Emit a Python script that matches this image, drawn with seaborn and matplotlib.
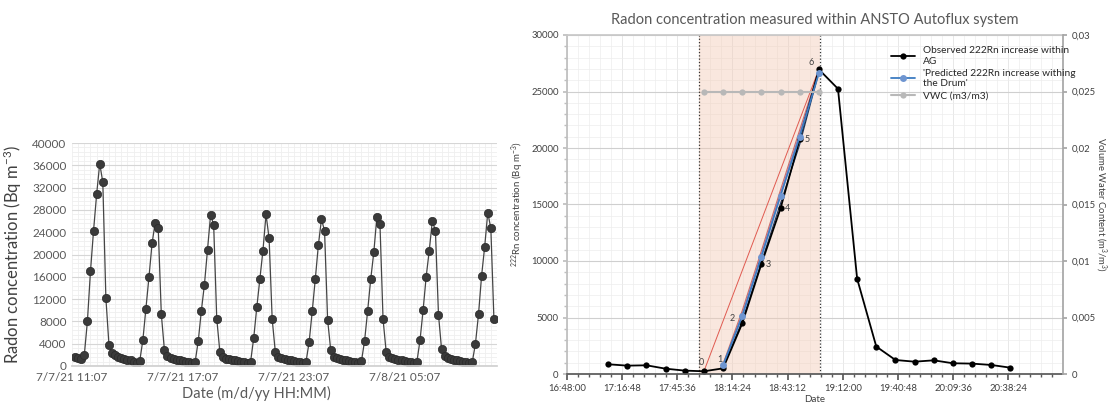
import pandas as pd
import matplotlib
matplotlib.use("Agg")
import matplotlib.pyplot as plt
import matplotlib.dates as mdates
from matplotlib.ticker import MultipleLocator, FuncFormatter
import seaborn as sns

sns.set_theme(style="white")
plt.rcParams['font.family'] = ['Lato', 'DejaVu Sans']
plt.rcParams['mathtext.default'] = 'regular'

#%% Left panel data - radon every 10 min, one list per accumulation cycle
pre_cycle = [1700, 1400, 1200, 2000, 8000, 17000, 24300, 30800]
cycle_1 = [36300, 33000, 12200, 3800, 2300, 1900, 1700, 1500, 1300, 1100, 1000, 800, 600, 900, 4600, 10200, 16000, 22000]
cycle_2 = [25700, 24700, 9300, 2900, 1800, 1400, 1200, 1100, 1000, 900, 800, 700, 500, 800, 4500, 9900, 14600, 20800]
cycle_3 = [27100, 25300, 8500, 2600, 1600, 1300, 1200, 1100, 1000, 900, 800, 700, 600, 800, 5000, 10500, 15600, 20700]
cycle_4 = [27200, 22900, 8400, 2600, 1700, 1400, 1200, 1100, 1000, 900, 800, 700, 600, 800, 4300, 9800, 15600, 21700]
cycle_5 = [26300, 24300, 8300, 2900, 1700, 1400, 1300, 1100, 1000, 900, 800, 700, 600, 900, 4500, 9900, 15600, 20400]
cycle_6 = [26800, 25400, 8400, 2600, 1600, 1400, 1200, 1100, 1000, 900, 800, 700, 600, 800, 4600, 10000, 16000, 20700]
cycle_7 = [26000, 24300, 9200, 3000, 1800, 1400, 1200, 1100, 1000, 900, 800, 700, 500, 800, 4000, 9300, 16200, 21400]
cycle_8 = [27500, 24700, 8400]
radon = pre_cycle + cycle_1 + cycle_2 + cycle_3 + cycle_4 + cycle_5 + cycle_6 + cycle_7 + cycle_8
left_times = pd.date_range("2021-07-07 11:17", periods=len(radon), freq="10min")
left_ticks = pd.to_datetime(["2021-07-07 11:07", "2021-07-07 17:07", "2021-07-07 23:07", "2021-07-08 05:07"])

#%% Right panel data
obs = [860, 740, 770, 470, 300, 240, 500, 4480, 9730, 14660, 20770, 26960,
       25240, 8430, 2430, 1240, 1090, 1210, 950, 920, 800, 560]
obs_times = pd.date_range("2021-07-07 17:09:30", periods=len(obs), freq="10min")
pred = [800, 5130, 10380, 15780, 21000, 26610]
pred_times = obs_times[6:12]
vwc = [0.025, 0.025, 0.025, 0.025, 0.025, 0.025, 0.025]
vwc_times = obs_times[5:12]
point_ids = ['0', '1', '2', '3', '4', '5', '6']
# other fitted curves drawn in the drum window (no legend)
fit_red = [240, 26960]
fit_pink = [900, 5600, 10900, 16300, 21600, 26900]
fit_navy = [600, 4700, 9900, 15100, 20300, 26700]
fit_purple = [700, 5300, 10600, 16000, 21300, 26800]
shade = pd.to_datetime(["2021-07-07 17:57:00", "2021-07-07 19:00:00"])

fig = plt.figure(figsize=(11.09, 4.07), dpi=100)

#%% Left
axL = fig.add_axes([72/1109, 41/407, 425/1109, 223/407])
sns.lineplot(x=left_times, y=radon, ax=axL, color='#454545', linewidth=0.9,
             marker='o', markersize=6, markerfacecolor='#3a3a3a',
             markeredgecolor='#2a2a2a', markeredgewidth=0.5)
axL.set_xlim(pd.Timestamp("2021-07-07 11:07"), pd.Timestamp("2021-07-08 10:07"))
axL.set_ylim(0, 40000)
axL.yaxis.set_major_locator(MultipleLocator(4000))
axL.yaxis.set_minor_locator(MultipleLocator(800))
axL.set_xticks(left_ticks)
axL.xaxis.set_major_formatter(FuncFormatter(
    lambda v, p: (lambda d: f"{d.month}/{d.day}/{d:%y %H:%M}")(mdates.num2date(v))))
axL.xaxis.set_minor_locator(mdates.MinuteLocator(byminute=[7, 27, 47]))
axL.grid(which='minor', color='#efefef', linewidth=0.6)
axL.grid(which='major', axis='y', color='#d6d6d6', linewidth=0.8)
axL.grid(which='major', axis='x', color='#efefef', linewidth=0.6)
axL.set_axisbelow(True)
for s in ['top', 'right', 'left']:
    axL.spines[s].set_visible(False)
axL.spines['bottom'].set_color('#d0d0d0')
axL.tick_params(axis='both', which='both', length=0, labelsize=8.5, labelcolor='#595959', pad=4)
axL.set_ylabel("Radon concentration (Bq m$^{-3}$)", fontsize=12, color='#404040', labelpad=6)
axL.set_xlabel("Date (m/d/yy HH:MM)", fontsize=10.5, color='#595959')
axL.xaxis.set_label_coords(0.435, -0.09)

#%% Right
axR = fig.add_axes([567/1109, 33/407, 496/1109, 339/407])
axR.axvspan(shade[0], shade[1], color='#f3cbb6', alpha=0.45, lw=0, zorder=0.6)
for t in shade:
    axR.axvline(t, color='#333333', ls=':', lw=0.9, zorder=1.5)

sns.lineplot(x=[vwc_times[0], vwc_times[-1]], y=fit_red, ax=axR, color='#e05a50', lw=0.7, legend=False)
sns.lineplot(x=pred_times, y=fit_pink, ax=axR, color='#c0504d', lw=0.8, alpha=0.8, legend=False)
sns.lineplot(x=pred_times, y=fit_purple, ax=axR, color='#7a4fa0', lw=0.7, alpha=0.7, legend=False)
sns.lineplot(x=pred_times, y=fit_navy, ax=axR, color='#1f3864', lw=0.8, legend=False)
sns.lineplot(x=obs_times, y=obs, ax=axR, color='black', lw=1.3, marker='o', markersize=4.5,
             markeredgewidth=0, label='Observed 222Rn increase within\nAG')
sns.lineplot(x=pred_times, y=pred, ax=axR, color='#3d7cc2', lw=1.3, marker='o', markersize=5,
             markerfacecolor='#6e95d0', markeredgewidth=0,
             label="'Predicted 222Rn increase withing\nthe Drum'")

offsets = [(-3, 9), (-3, 9), (-10, 5), (7, 0), (7, 0), (7, 0), (-8, 7)]
for i, lab in enumerate(point_ids):
    axR.annotate(lab, (obs_times[5 + i], obs[5 + i]), textcoords='offset pixels',
                 xytext=offsets[i], ha='center', va='center', fontsize=6.5, color='#404040')

axR.set_xlim(pd.Timestamp("2021-07-07 16:48:00"), pd.Timestamp("2021-07-07 21:07:00"))
axR.set_ylim(0, 30000)
axR.yaxis.set_major_locator(MultipleLocator(5000))
axR.yaxis.set_minor_locator(MultipleLocator(1000))
axR.xaxis.set_major_locator(MultipleLocator(0.02))
axR.xaxis.set_minor_locator(MultipleLocator(0.004))
axR.xaxis.set_major_formatter(FuncFormatter(
    lambda v, p: (lambda s: f"{s // 3600:02d}:{s % 3600 // 60:02d}:{s % 60:02d}")(int(round((v % 1) * 86400)))))
axR.grid(which='minor', color='#ededed', linewidth=0.5)
axR.grid(which='major', axis='y', color='#cfcfcf', linewidth=0.8)
axR.grid(which='major', axis='x', color='#e4e4e4', linewidth=0.6)
axR.set_axisbelow(True)
axR.spines['top'].set_color('#c8c8c8')
axR.spines['left'].set_color('#bfbfbf')
axR.spines['right'].set_visible(False)
axR.spines['bottom'].set_color('#595959')
axR.tick_params(axis='both', which='major', labelsize=6.8, labelcolor='#404040', pad=3)
axR.tick_params(axis='x', which='both', bottom=True, direction='out', color='#595959')
axR.tick_params(axis='x', which='major', length=4)
axR.tick_params(axis='x', which='minor', length=2)
axR.tick_params(axis='y', which='both', left=True, direction='out', color='#bfbfbf')
axR.tick_params(axis='y', which='major', length=3)
axR.tick_params(axis='y', which='minor', length=2)
axR.set_ylabel("$^{222}$Rn concentration (Bq m$^{-3}$)", fontsize=7, color='#404040', labelpad=4)
axR.set_xlabel("Date", fontsize=7, color='#404040', labelpad=2)

ax2 = axR.twinx()
sns.lineplot(x=vwc_times, y=vwc, ax=ax2, color='#b8b8b8', lw=1.5, marker='o', markersize=4.5,
             markeredgewidth=0, label='VWC (m3/m3)', legend=False)
ax2.set_ylim(0, 0.03)
ax2.yaxis.set_major_locator(MultipleLocator(0.005))
ax2.yaxis.set_major_formatter(FuncFormatter(lambda v, p: f"{v:.3f}".rstrip('0').rstrip('.').replace('.', ',') if v else "0"))
for s in ['top', 'left', 'bottom']:
    ax2.spines[s].set_visible(False)
ax2.spines['right'].set_color('#a6a6a6')
ax2.tick_params(axis='y', which='major', right=True, length=3, color='#a6a6a6', labelsize=6.8,
                labelcolor='#404040', pad=3)
ax2.set_ylabel("Volume Water Content (m$^{3}$/m$^{3}$)", fontsize=6.8, color='#404040', rotation=270)
ax2.yaxis.set_label_coords(1.077, 0.5)
ax2.yaxis.label.set_va('center')

h1, l1 = axR.get_legend_handles_labels()
h2, l2 = ax2.get_legend_handles_labels()
if axR.get_legend():
    axR.get_legend().remove()
leg = ax2.legend(h1 + h2, l1 + l2, loc='upper left', bbox_to_anchor=(0.64, 0.985), frameon=False,
                 fontsize=7.3, handlelength=2.4, labelspacing=0.3, borderaxespad=0.2)
for t in leg.get_texts():
    t.set_color('#262626')

fig.text(815/1109, 1 - 20/407, "Radon concentration measured within ANSTO Autoflux system",
         ha='center', va='center', fontsize=10.5, color='#595959')

fig.savefig("out.png", dpi=100)
